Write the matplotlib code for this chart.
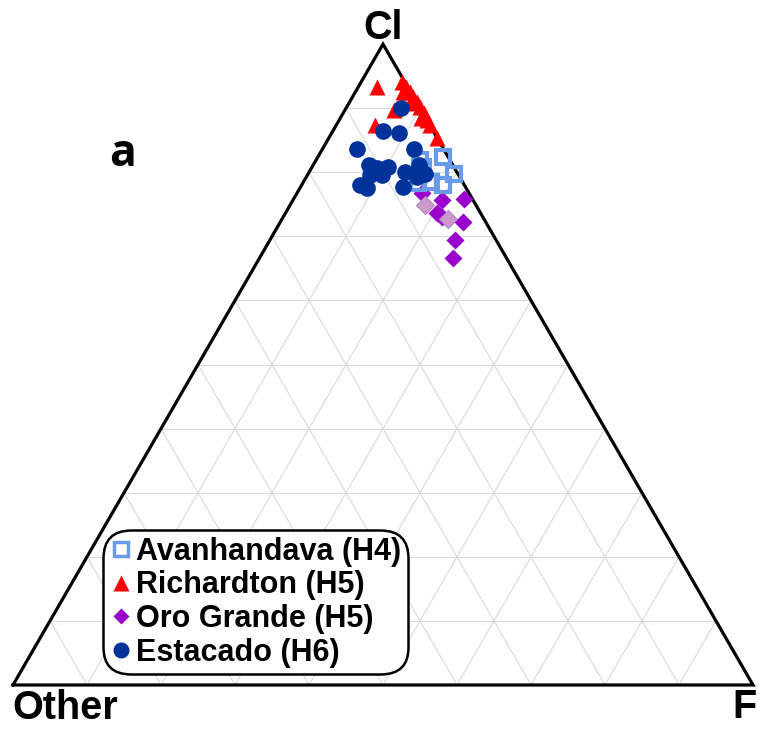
import numpy as np
import matplotlib
matplotlib.use("Agg")
import matplotlib.pyplot as plt
from matplotlib.lines import Line2D

# ---- data (percent): Cl and F; Other = 100 - Cl - F ----
avan_cl = [81.9, 82.4, 79.8, 78.5, 78.0, 78.3, 80.9]
avan_f = [14.0, 16.9, 19.7, 17.3, 19.1, 15.6, 15.0]

rich_cl = [93.3, 94.1, 93.3, 92.6, 91.8, 91.0, 90.2, 89.7, 89.2, 88.1, 87.4, 85.3, 87.4, 90.8, 88.4, 92.6]
rich_f = [2.6, 5.5, 6.5, 7.4, 8.2, 9.1, 9.9, 6.6, 10.9, 11.9, 12.7, 14.6, 5.2, 8.5, 11.0, 6.4]

oro_cl = [76.7, 75.7, 75.9, 73.6, 72.3, 69.4, 66.6, 73.1]
oro_f = [16.9, 20.1, 23.0, 20.5, 24.6, 25.0, 26.2, 21.4]

oro2_cl = [74.9, 72.7]
oro2_f = [18.2, 22.4]

esta_cl = [90.1, 86.5, 86.2, 83.7, 83.7, 81.2, 80.6, 80.8, 79.6, 79.6, 78.0, 77.5, 80.1, 81.1, 79.8, 77.7, 79.3]
esta_f = [7.4, 6.8, 9.1, 4.7, 12.3, 7.5, 8.9, 10.3, 10.0, 8.5, 7.9, 9.1, 12.9, 14.3, 15.8, 13.9, 14.9]

labels = ["Avanhandava (H4)", "Richardton (H5)", "Oro Grande (H5)", "Estacado (H6)"]
vertex_labels = ["Cl", "Other", "F"]

H = np.sqrt(3) / 2


def tern(cl, f):
    cl = np.asarray(cl, float) / 100.0
    f = np.asarray(f, float) / 100.0
    return f + cl / 2.0, cl * H


fig = plt.figure(figsize=(7.59, 7.34), dpi=100)
ax = fig.add_axes([0, 0, 1, 1])
ax.set_xlim(-13 / 740, 746 / 740)
ax.set_ylim(-49 / 740, 685 / 740)
ax.axis("off")

# grid
gc = "#d9d9d9"
for i in range(1, 10):
    v = i * 10
    x, y = tern([v, v], [0, 100 - v]); ax.plot(x, y, color=gc, lw=0.8, zorder=1)
    x, y = tern([0, 100 - v], [v, v]); ax.plot(x, y, color=gc, lw=0.8, zorder=1)
    x, y = tern([0, 100 - v], [100 - v, 0]); ax.plot(x, y, color=gc, lw=0.8, zorder=1)

# border
x, y = tern([0, 0, 100, 0], [0, 100, 0, 0])
ax.plot(x, y, color="black", lw=2.3, zorder=2, solid_joinstyle="miter")

# data
x, y = tern(rich_cl, rich_f)
ax.plot(x, y, ls="none", marker="^", ms=12, color="#FF0000", mec="none", zorder=4)
x, y = tern(oro_cl, oro_f)
ax.plot(x, y, ls="none", marker="D", ms=9.5, color="#9900CC", mec="none", zorder=3)
x, y = tern(oro2_cl, oro2_f)
ax.plot(x, y, ls="none", marker="D", ms=9.5, color="#CC99CC", mec="#B088B8", mew=0.8, zorder=3)
x, y = tern(avan_cl, avan_f)
ax.plot(x, y, ls="none", marker="s", ms=10.5, mfc="none", mec="#6A9AEA", mew=3, zorder=5)
x, y = tern(esta_cl, esta_f)
ax.plot(x, y, ls="none", marker="o", ms=12, color="#003399", mec="none", zorder=6)

# vertex labels
vfont = dict(family="Liberation Sans", weight="bold", size=28.5)
ax.text(0.5, 657 / 740, vertex_labels[0], ha="center", va="center", **vfont)
ax.text(-0.001, -23 / 740, vertex_labels[1], ha="left", va="center", **vfont)
ax.text(731.5 / 740, -22 / 740, vertex_labels[2], ha="center", va="center", **vfont)

ax.text(109.5 / 740, 531 / 740, "a", ha="center", va="center",
        family="Open Sans", weight="bold", size=32)

handles = [
    Line2D([], [], ls="none", marker="s", ms=9.5, mfc="white", mec="#6A9AEA", mew=2.5),
    Line2D([], [], ls="none", marker="^", ms=11, color="#FF0000", mec="none"),
    Line2D([], [], ls="none", marker="D", ms=8.5, color="#9900CC", mec="none"),
    Line2D([], [], ls="none", marker="o", ms=11.5, color="#003399", mec="none"),
]
leg = ax.legend(handles, labels, loc="upper left",
                bbox_to_anchor=(103 / 759, 1 - 530 / 734), bbox_transform=fig.transFigure,
                borderaxespad=0, prop=dict(family="Liberation Sans", weight="bold", size=22),
                handlelength=0.75, handletextpad=0.1, borderpad=0.22, labelspacing=0.12,
                frameon=True, fancybox=True, framealpha=1)
fr = leg.get_frame()
fr.set_edgecolor("black")
fr.set_linewidth(1.8)
fr.set_boxstyle("round,pad=0,rounding_size=0.9")
leg.set_zorder(10)

fig.savefig("out.png", dpi=100)
